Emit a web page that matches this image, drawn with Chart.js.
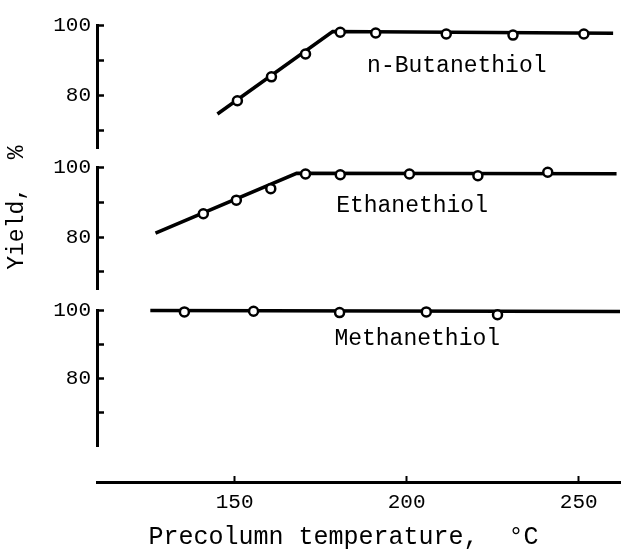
<!DOCTYPE html>
<html>
<head>
<meta charset="utf-8">
<script src="https://cdn.jsdelivr.net/npm/chart.js@4.4.1/dist/chart.umd.min.js"></script>
<style>
  html, body { margin: 0; padding: 0; background: #fff; }
</style>
</head>
<body>
<canvas id="graph" width="627" height="550"></canvas>
<script>
// x: precolumn temperature (°C), y: yield (%)
var xTicks = [150, 200, 250];
var yTicks = [70, 80, 90, 100];
var yLabeled = [80, 100];

// n-Butanethiol
var butT = [150.8, 160.7, 170.6, 180.7, 191.0, 211.5, 230.9, 251.5];
var butY = [78.6, 85.4, 91.9, 98.1, 97.9, 97.6, 97.3, 97.6];
var butFitT = [145, 178.5, 260];
var butFitY = [74.8, 98.3, 97.8];

// Ethanethiol
var ethT = [140.9, 150.5, 160.5, 170.6, 180.7, 200.8, 220.7, 241.0];
var ethY = [86.7, 90.6, 93.9, 98.1, 97.9, 98.1, 97.6, 98.6];
var ethFitT = [127, 168, 261];
var ethFitY = [81.1, 98.3, 98.2];

// Methanethiol
var methT = [135.4, 155.5, 180.5, 205.7, 226.4];
var methY = [99.5, 99.7, 99.3, 99.5, 98.7];
var methFitT = [125.5, 262];
var methFitY = [99.9, 99.6];

var seriesNames = ["n-Butanethiol", "Ethanethiol", "Methanethiol"];

function pts(xs, ys) {
    return xs.map(function(x, i) { return { x: x, y: ys[i] }; });
}

var font = '"Liberation Mono", "DejaVu Sans Mono", monospace';

function pointSet(xs, ys, axis) {
    return {
        data: pts(xs, ys), yAxisID: axis, showLine: false, order: 0,
        pointRadius: 4.5, pointBorderWidth: 2.5,
        pointBackgroundColor: "#fff", pointBorderColor: "#000", clip: false
    };
}
function fitSet(xs, ys, axis) {
    return {
        data: pts(xs, ys), yAxisID: axis, order: 1,
        borderColor: "#000", borderWidth: 3.5, pointRadius: 0, tension: 0, clip: false
    };
}

// panel axis (visible)
function panelAxis(min, weight, title) {
    return {
        type: "linear", position: "left", stack: "yield", stackWeight: weight,
        min: min, max: 100,
        afterFit: function(s) { s.width = 97; },
        afterBuildTicks: function(s) { s.ticks = yTicks.map(function(v) { return { value: v }; }); },
        border: { display: true, color: "#000", width: 3 },
        grid: { drawOnChartArea: false, drawTicks: true, tickLength: -7, tickWidth: 2.5, tickColor: "#000" },
        ticks: {
            color: "#000", padding: 13, autoSkip: false, font: { family: font, size: 21 },
            callback: function(v) { return yLabeled.indexOf(v) >= 0 ? String(v) : ""; }
        },
        title: title ? {
            display: true, text: title, color: "#000",
            font: { family: font, size: 23, lineHeight: 1.2 }, padding: { top: 3, bottom: 0 }
        } : { display: false }
    };
}
// empty spacer axis between panels
function gapAxis(weight) {
    return {
        type: "linear", position: "left", stack: "yield", stackWeight: weight,
        afterFit: function(s) { s.width = 97; },
        border: { display: false },
        grid: { display: false },
        ticks: { display: false }
    };
}

// series name labels
var nameLabels = [
    { text: seriesNames[0], x: 188.5, y: 88.6, axis: "yBut" },
    { text: seriesNames[1], x: 179.5, y: 89.0, axis: "yEth" },
    { text: seriesNames[2], x: 179.0, y: 91.7, axis: "yMeth" }
];

var labelPlugin = {
    id: "names",
    afterDatasetsDraw: function(chart) {
        var ctx = chart.ctx;
        ctx.save();
        ctx.fillStyle = "#000";
        ctx.font = "23px " + font;
        ctx.textAlign = "left";
        ctx.textBaseline = "middle";
        nameLabels.forEach(function(l) {
            ctx.fillText(l.text, chart.scales.x.getPixelForValue(l.x), chart.scales[l.axis].getPixelForValue(l.y));
        });
        ctx.restore();
    }
};

var ctx = document.getElementById("graph").getContext("2d");
var myChart = new Chart(ctx, {
    type: "line",
    data: {
        datasets: [
            pointSet(butT, butY, "yBut"),
            pointSet(ethT, ethY, "yEth"),
            pointSet(methT, methY, "yMeth"),
            fitSet(butFitT, butFitY, "yBut"),
            fitSet(ethFitT, ethFitY, "yEth"),
            fitSet(methFitT, methFitY, "yMeth")
        ]
    },
    plugins: [labelPlugin],
    options: {
        responsive: false,
        animation: false,
        layout: { padding: { top: 25, right: 2, left: 0, bottom: 0 } },
        plugins: { legend: { display: false }, tooltip: { enabled: false }, title: { display: false } },
        scales: {
            x: {
                type: "linear", position: "bottom", min: 110, max: 262,
                afterFit: function(s) { s.height = 68; },
                afterBuildTicks: function(s) { s.ticks = xTicks.map(function(v) { return { value: v }; }); },
                border: { display: true, color: "#000", width: 3 },
                grid: { drawOnChartArea: false, drawTicks: true, tickLength: -6, tickWidth: 2, tickColor: "#000" },
                ticks: { color: "#000", padding: 14, maxRotation: 0, autoSkip: false, font: { family: font, size: 21 } },
                title: {
                    display: true, text: "Precolumn temperature,  \u00B0C  ", color: "#000",
                    font: { family: font, size: 25, lineHeight: 1 }, padding: { top: 0, bottom: 0 }
                }
            },
            // listed bottom to top: the last one is stacked at the top
            yGap3: gapAxis(36),
            yMeth: panelAxis(60, 136),
            yGap2: gapAxis(21),
            yEth: panelAxis(65, 122, "   Yield,  %"),
            yGap1: gapAxis(19),
            yBut: panelAxis(65, 123)
        }
    }
});
</script>
</body>
</html>
